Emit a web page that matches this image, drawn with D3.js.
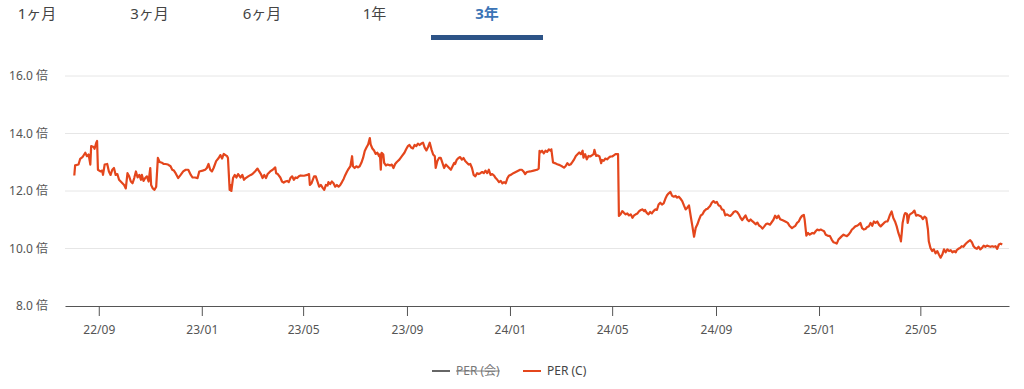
<!DOCTYPE html>
<html>
<head>
<meta charset="utf-8">
<script src="https://cdn.jsdelivr.net/npm/d3@7"></script>
<style>
  body { margin: 0; background: #fff; font-family: "Noto Sans", "Noto Sans CJK JP", sans-serif; }
</style>
</head>
<body>
<svg id="chart" width="1024" height="389"></svg>
<script>
var tabs = ["1ヶ月", "3ヶ月", "6ヶ月", "1年", "3年"];
var activeTab = "3年";
var yTicks = [8, 10, 12, 14, 16];
var xDomain = ["2022-07-23", "2025-08-14"];
var legendItems = [
  {name: "PER (会)", color: "#666", hidden: true},
  {name: "PER (C)", color: "#e4461c", hidden: false}
];

// PER (C)
var perC = [
  ["2022-08-03",12.54],["2022-08-04",12.89],["2022-08-08",12.92],["2022-08-10",13.12],["2022-08-13",13.19],
  ["2022-08-16",13.33],["2022-08-18",13.21],["2022-08-20",13.27],["2022-08-22",12.92],["2022-08-23",13.56],
  ["2022-08-26",13.53],["2022-08-27",13.47],["2022-08-29",13.68],["2022-08-30",13.74],["2022-08-31",12.74],
  ["2022-09-03",12.68],["2022-09-05",12.71],["2022-09-06",12.56],["2022-09-08",12.92],["2022-09-11",12.94],
  ["2022-09-13",12.68],["2022-09-15",12.56],["2022-09-17",12.74],["2022-09-19",12.80],["2022-09-21",12.56],
  ["2022-09-23",12.59],["2022-09-25",12.39],["2022-09-27",12.33],["2022-09-29",12.27],["2022-10-01",12.21],
  ["2022-10-03",12.09],["2022-10-05",12.62],["2022-10-07",12.51],["2022-10-09",12.33],["2022-10-11",12.27],
  ["2022-10-13",12.45],["2022-10-15",12.68],["2022-10-17",12.47],["2022-10-19",12.56],["2022-10-21",12.39],
  ["2022-10-22",12.56],["2022-10-24",12.35],["2022-10-26",12.45],["2022-10-28",12.51],["2022-10-30",12.33],
  ["2022-11-01",12.80],["2022-11-02",12.21],["2022-11-04",12.09],["2022-11-06",12.04],["2022-11-08",12.15],
  ["2022-11-10",13.15],["2022-11-12",13.01],["2022-11-15",12.98],["2022-11-17",12.94],["2022-11-19",12.94],
  ["2022-11-22",12.92],["2022-11-25",12.86],["2022-11-27",12.74],["2022-11-29",12.71],["2022-12-01",12.62],
  ["2022-12-04",12.45],["2022-12-07",12.56],["2022-12-10",12.68],["2022-12-13",12.74],["2022-12-16",12.74],
  ["2022-12-19",12.56],["2022-12-21",12.47],["2022-12-24",12.47],["2022-12-27",12.45],["2022-12-29",12.68],
  ["2023-01-02",12.71],["2023-01-05",12.74],["2023-01-07",12.80],["2023-01-09",12.94],["2023-01-11",12.74],
  ["2023-01-13",12.68],["2023-01-15",12.80],["2023-01-18",13.04],["2023-01-21",13.15],["2023-01-23",13.25],
  ["2023-01-25",13.13],["2023-01-27",13.29],["2023-01-29",13.25],["2023-01-31",13.21],["2023-02-01",13.15],
  ["2023-02-03",12.04],["2023-02-04",12.21],["2023-02-05",12.00],["2023-02-07",12.45],["2023-02-09",12.56],
  ["2023-02-11",12.47],["2023-02-13",12.59],["2023-02-16",12.47],["2023-02-18",12.56],["2023-02-20",12.39],
  ["2023-02-22",12.45],["2023-02-25",12.51],["2023-02-28",12.56],["2023-03-02",12.59],["2023-03-05",12.68],
  ["2023-03-08",12.78],["2023-03-10",12.68],["2023-03-12",12.59],["2023-03-14",12.45],["2023-03-16",12.56],
  ["2023-03-18",12.45],["2023-03-20",12.59],["2023-03-21",12.62],["2023-03-23",12.68],["2023-03-26",12.74],
  ["2023-03-29",12.82],["2023-03-30",12.62],["2023-04-01",12.59],["2023-04-04",12.47],["2023-04-06",12.33],
  ["2023-04-08",12.29],["2023-04-10",12.33],["2023-04-12",12.35],["2023-04-14",12.31],["2023-04-16",12.45],
  ["2023-04-18",12.51],["2023-04-20",12.39],["2023-04-22",12.47],["2023-04-24",12.45],["2023-04-26",12.51],
  ["2023-04-28",12.54],["2023-05-02",12.53],["2023-05-06",12.56],["2023-05-08",12.59],["2023-05-09",12.21],
  ["2023-05-11",12.27],["2023-05-14",12.51],["2023-05-16",12.51],["2023-05-18",12.33],["2023-05-20",12.15],
  ["2023-05-22",12.21],["2023-05-24",12.12],["2023-05-26",12.04],["2023-05-28",12.21],["2023-05-30",12.19],
  ["2023-05-31",12.31],["2023-06-02",12.24],["2023-06-04",12.33],["2023-06-06",12.27],["2023-06-08",12.15],
  ["2023-06-10",12.21],["2023-06-12",12.15],["2023-06-14",12.21],["2023-06-16",12.31],["2023-06-18",12.42],
  ["2023-06-20",12.56],["2023-06-22",12.68],["2023-06-24",12.78],["2023-06-26",12.86],["2023-06-28",13.21],
  ["2023-06-29",12.86],["2023-07-01",12.80],["2023-07-03",12.86],["2023-07-05",12.82],["2023-07-07",12.86],
  ["2023-07-09",12.98],["2023-07-11",13.15],["2023-07-13",13.39],["2023-07-15",13.51],["2023-07-17",13.62],
  ["2023-07-19",13.84],["2023-07-20",13.62],["2023-07-22",13.48],["2023-07-24",13.41],["2023-07-26",13.29],
  ["2023-07-28",13.33],["2023-07-30",13.21],["2023-07-31",13.27],["2023-08-01",12.74],["2023-08-02",13.33],
  ["2023-08-04",13.27],["2023-08-05",12.98],["2023-08-07",12.89],["2023-08-09",12.92],["2023-08-12",12.89],
  ["2023-08-14",12.92],["2023-08-16",12.80],["2023-08-18",12.94],["2023-08-20",13.01],["2023-08-23",13.09],
  ["2023-08-26",13.21],["2023-08-29",13.33],["2023-08-31",13.45],["2023-09-02",13.56],["2023-09-04",13.60],
  ["2023-09-06",13.51],["2023-09-08",13.48],["2023-09-10",13.60],["2023-09-12",13.56],["2023-09-14",13.65],
  ["2023-09-16",13.60],["2023-09-18",13.65],["2023-09-20",13.68],["2023-09-22",13.51],["2023-09-24",13.41],
  ["2023-09-26",13.53],["2023-09-28",13.68],["2023-09-30",13.45],["2023-10-02",13.27],["2023-10-04",13.21],
  ["2023-10-05",12.80],["2023-10-07",13.04],["2023-10-09",13.15],["2023-10-11",13.15],["2023-10-13",12.98],
  ["2023-10-15",12.80],["2023-10-17",12.92],["2023-10-19",12.86],["2023-10-21",12.80],["2023-10-23",12.74],
  ["2023-10-25",12.86],["2023-10-27",12.98],["2023-10-28",12.94],["2023-10-30",13.09],["2023-11-01",13.15],
  ["2023-11-03",13.18],["2023-11-05",13.09],["2023-11-07",13.15],["2023-11-09",13.04],["2023-11-11",12.98],
  ["2023-11-13",12.92],["2023-11-15",12.94],["2023-11-17",12.80],["2023-11-19",12.56],["2023-11-21",12.51],
  ["2023-11-23",12.62],["2023-11-25",12.59],["2023-11-27",12.62],["2023-11-29",12.66],["2023-12-01",12.62],
  ["2023-12-03",12.71],["2023-12-05",12.62],["2023-12-07",12.74],["2023-12-09",12.56],["2023-12-11",12.59],
  ["2023-12-13",12.54],["2023-12-15",12.45],["2023-12-17",12.39],["2023-12-19",12.31],["2023-12-21",12.35],
  ["2023-12-23",12.27],["2023-12-25",12.31],["2023-12-27",12.27],["2023-12-29",12.45],["2023-12-31",12.54],
  ["2024-01-02",12.56],["2024-01-05",12.62],["2024-01-09",12.68],["2024-01-13",12.74],["2024-01-15",12.74],
  ["2024-01-17",12.68],["2024-01-19",12.59],["2024-01-21",12.66],["2024-01-25",12.68],["2024-01-29",12.71],
  ["2024-02-02",12.74],["2024-02-04",12.78],["2024-02-05",13.40],["2024-02-06",13.34],["2024-02-08",13.40],
  ["2024-02-10",13.31],["2024-02-12",13.40],["2024-02-14",13.36],["2024-02-16",13.45],["2024-02-18",13.40],
  ["2024-02-19",13.45],["2024-02-21",12.99],["2024-02-23",12.97],["2024-02-26",12.93],["2024-02-29",12.90],
  ["2024-03-03",12.85],["2024-03-05",12.81],["2024-03-07",12.87],["2024-03-09",12.97],["2024-03-11",12.90],
  ["2024-03-13",12.93],["2024-03-15",13.01],["2024-03-17",13.10],["2024-03-19",13.22],["2024-03-21",13.28],
  ["2024-03-23",13.34],["2024-03-25",13.28],["2024-03-27",13.40],["2024-03-28",13.16],["2024-03-30",13.28],
  ["2024-04-01",13.10],["2024-04-03",13.22],["2024-04-05",13.20],["2024-04-07",13.24],["2024-04-09",13.28],
  ["2024-04-10",13.43],["2024-04-12",13.22],["2024-04-14",13.24],["2024-04-16",13.20],["2024-04-18",12.97],
  ["2024-04-19",13.08],["2024-04-21",13.05],["2024-04-23",13.13],["2024-04-25",13.10],["2024-04-27",13.16],
  ["2024-04-29",13.20],["2024-05-01",13.20],["2024-05-03",13.24],["2024-05-05",13.28],["2024-05-08",13.28],
  ["2024-05-09",11.13],["2024-05-11",11.19],["2024-05-13",11.30],["2024-05-15",11.24],["2024-05-17",11.19],
  ["2024-05-19",11.22],["2024-05-21",11.15],["2024-05-23",11.19],["2024-05-25",11.07],["2024-05-27",11.15],
  ["2024-05-29",11.19],["2024-05-31",11.22],["2024-06-02",11.30],["2024-06-04",11.34],["2024-06-06",11.36],
  ["2024-06-08",11.30],["2024-06-09",11.34],["2024-06-11",11.24],["2024-06-13",11.19],["2024-06-15",11.27],
  ["2024-06-17",11.22],["2024-06-19",11.30],["2024-06-21",11.36],["2024-06-23",11.34],["2024-06-25",11.53],
  ["2024-06-27",11.59],["2024-06-29",11.53],["2024-07-01",11.57],["2024-07-03",11.73],["2024-07-05",11.85],
  ["2024-07-07",11.92],["2024-07-09",11.97],["2024-07-11",11.83],["2024-07-13",11.80],["2024-07-15",11.83],
  ["2024-07-17",11.77],["2024-07-19",11.80],["2024-07-21",11.73],["2024-07-23",11.65],["2024-07-25",11.50],
  ["2024-07-27",11.36],["2024-07-29",11.42],["2024-07-31",11.50],["2024-08-02",11.13],["2024-08-04",10.78],
  ["2024-08-06",10.41],["2024-08-08",10.72],["2024-08-10",10.84],["2024-08-12",11.01],["2024-08-14",11.15],
  ["2024-08-16",11.19],["2024-08-18",11.30],["2024-08-20",11.36],["2024-08-22",11.38],["2024-08-23",11.42],
  ["2024-08-25",11.48],["2024-08-27",11.59],["2024-08-29",11.65],["2024-08-31",11.59],["2024-09-02",11.62],
  ["2024-09-04",11.50],["2024-09-06",11.48],["2024-09-08",11.36],["2024-09-10",11.34],["2024-09-12",11.15],
  ["2024-09-14",11.19],["2024-09-16",11.15],["2024-09-18",11.13],["2024-09-20",11.19],["2024-09-22",11.27],
  ["2024-09-24",11.30],["2024-09-26",11.27],["2024-09-28",11.19],["2024-09-30",11.07],["2024-10-02",10.99],
  ["2024-10-04",11.07],["2024-10-06",11.15],["2024-10-08",11.01],["2024-10-10",10.95],["2024-10-12",11.01],
  ["2024-10-14",10.95],["2024-10-16",10.90],["2024-10-18",10.84],["2024-10-20",10.90],["2024-10-22",10.80],
  ["2024-10-24",10.76],["2024-10-26",10.69],["2024-10-28",10.76],["2024-10-30",10.84],["2024-11-01",10.87],
  ["2024-11-04",10.83],["2024-11-08",11.00],["2024-11-10",11.14],["2024-11-12",11.06],["2024-11-14",11.14],
  ["2024-11-16",11.02],["2024-11-19",10.98],["2024-11-22",10.94],["2024-11-25",10.89],["2024-11-27",10.79],
  ["2024-11-30",10.71],["2024-12-02",10.75],["2024-12-04",10.79],["2024-12-06",10.89],["2024-12-08",10.94],
  ["2024-12-10",11.06],["2024-12-12",11.14],["2024-12-14",11.17],["2024-12-15",11.00],["2024-12-17",10.45],
  ["2024-12-19",10.54],["2024-12-21",10.48],["2024-12-24",10.54],["2024-12-26",10.52],["2024-12-28",10.60],
  ["2024-12-30",10.66],["2025-01-01",10.63],["2025-01-03",10.66],["2025-01-05",10.63],["2025-01-07",10.60],
  ["2025-01-09",10.48],["2025-01-11",10.45],["2025-01-14",10.43],["2025-01-16",10.31],["2025-01-18",10.22],
  ["2025-01-20",10.20],["2025-01-22",10.17],["2025-01-24",10.31],["2025-01-26",10.37],["2025-01-28",10.43],
  ["2025-01-30",10.48],["2025-02-01",10.45],["2025-02-03",10.43],["2025-02-05",10.48],["2025-02-07",10.56],
  ["2025-02-09",10.66],["2025-02-11",10.71],["2025-02-13",10.77],["2025-02-15",10.79],["2025-02-17",10.83],
  ["2025-02-19",10.89],["2025-02-21",10.71],["2025-02-23",10.66],["2025-02-25",10.68],["2025-02-27",10.75],
  ["2025-03-01",10.77],["2025-03-03",10.89],["2025-03-05",10.79],["2025-03-07",10.94],["2025-03-09",10.89],
  ["2025-03-11",10.94],["2025-03-13",10.83],["2025-03-15",10.77],["2025-03-17",10.83],["2025-03-19",10.89],
  ["2025-03-21",10.94],["2025-03-23",10.94],["2025-03-24",11.00],["2025-03-26",11.17],["2025-03-28",11.29],
  ["2025-03-30",11.06],["2025-04-01",10.94],["2025-04-03",10.77],["2025-04-05",10.54],["2025-04-07",10.37],
  ["2025-04-08",10.25],["2025-04-09",10.54],["2025-04-10",10.89],["2025-04-12",11.17],["2025-04-13",11.23],
  ["2025-04-15",11.21],["2025-04-16",10.89],["2025-04-18",11.17],["2025-04-20",11.21],["2025-04-22",11.25],
  ["2025-04-24",11.32],["2025-04-26",11.14],["2025-04-28",11.17],["2025-04-30",11.14],["2025-05-02",11.11],
  ["2025-05-04",11.02],["2025-05-06",11.11],["2025-05-08",11.06],["2025-05-10",10.66],["2025-05-11",10.25],
  ["2025-05-13",10.02],["2025-05-15",9.91],["2025-05-17",9.97],["2025-05-19",9.83],["2025-05-21",9.91],
  ["2025-05-23",9.79],["2025-05-25",9.68],["2025-05-27",9.79],["2025-05-29",9.97],["2025-05-31",9.87],
  ["2025-06-02",9.97],["2025-06-04",9.91],["2025-06-06",9.94],["2025-06-08",9.87],["2025-06-10",9.91],
  ["2025-06-12",9.87],["2025-06-13",9.94],["2025-06-15",9.99],["2025-06-17",10.02],["2025-06-19",10.08],
  ["2025-06-21",10.06],["2025-06-23",10.14],["2025-06-25",10.20],["2025-06-27",10.25],["2025-06-29",10.29],
  ["2025-07-01",10.22],["2025-07-03",10.08],["2025-07-05",10.02],["2025-07-07",9.99],["2025-07-09",10.06],
  ["2025-07-11",9.97],["2025-07-13",10.02],["2025-07-15",10.10],["2025-07-17",10.06],["2025-07-19",10.10],
  ["2025-07-21",10.08],["2025-07-23",10.06],["2025-07-25",10.08],["2025-07-27",10.06],["2025-07-29",10.08],
  ["2025-07-31",9.99],["2025-08-02",10.14],["2025-08-04",10.17],["2025-08-06",10.14]
];

var parseDate = d3.timeParse("%Y-%m-%d");
var plot = {left: 65, right: 1009, top: 76, bottom: 306};

var svg = d3.select("#chart");

var x = d3.scaleTime()
  .domain(xDomain.map(parseDate))
  .range([plot.left, plot.right]);
var y = d3.scaleLinear()
  .domain([8, 16])
  .range([plot.bottom, plot.top]);

// tabs across the top
var tabX = d3.scalePoint().domain(tabs).range([37, 487]);
svg.append("g").selectAll("text")
  .data(tabs)
  .enter().append("text")
  .attr("x", function(d){ return tabX(d); })
  .attr("y", 19)
  .attr("text-anchor", "middle")
  .attr("font-size", 15)
  .attr("font-weight", function(d){ return d === activeTab ? "bold" : "normal"; })
  .attr("fill", function(d){ return d === activeTab ? "#3b74b6" : "#444"; })
  .text(function(d){ return d; });
svg.append("rect")
  .attr("x", tabX(activeTab) - 56)
  .attr("y", 35)
  .attr("width", 112)
  .attr("height", 5)
  .attr("fill", "#2d5487");

// grid + y labels
svg.append("g").selectAll("line")
  .data(yTicks.filter(function(d){ return d > 8; }))
  .enter().append("line")
  .attr("x1", plot.left).attr("x2", plot.right)
  .attr("y1", function(d){ return y(d); }).attr("y2", function(d){ return y(d); })
  .attr("stroke", "#e6e6e6");

svg.append("g").selectAll("text")
  .data(yTicks)
  .enter().append("text")
  .attr("x", 48)
  .attr("y", function(d){ return y(d); })
  .attr("dy", "0.35em")
  .attr("text-anchor", "end")
  .attr("font-size", 12)
  .attr("fill", "#555")
  .text(function(d){ return d3.format(".1f")(d) + " 倍"; });

// x axis
var xAxis = svg.append("g")
  .attr("transform", "translate(0," + plot.bottom + ")")
  .call(d3.axisBottom(x)
    .ticks(d3.timeMonth.every(4))
    .tickFormat(d3.timeFormat("%y/%m"))
    .tickSize(10)
    .tickSizeOuter(0)
    .tickPadding(9));
xAxis.select(".domain").attr("stroke", "#555");
xAxis.selectAll(".tick line").attr("stroke", "#555");
xAxis.selectAll("text")
  .attr("font-size", 12)
  .attr("fill", "#555")
  .attr("font-family", "Noto Sans, sans-serif");

// the series
var line = d3.line()
  .x(function(d){ return x(parseDate(d[0])); })
  .y(function(d){ return y(d[1]); });

svg.append("path")
  .datum(perC)
  .attr("d", line)
  .attr("fill", "none")
  .attr("stroke", "#e4461c")
  .attr("stroke-width", 2.2)
  .attr("stroke-linejoin", "round");

// legend
var legendX = [432, 523];
var legend = svg.append("g").selectAll("g")
  .data(legendItems)
  .enter().append("g")
  .attr("transform", function(d, i){ return "translate(" + legendX[i] + ",371)"; });
legend.append("line")
  .attr("x1", 0).attr("x2", 18)
  .attr("stroke", function(d){ return d.color; })
  .attr("stroke-width", 2);
legend.append("text")
  .attr("x", 24)
  .attr("dy", "0.35em")
  .attr("font-size", 12)
  .attr("fill", function(d){ return d.hidden ? "#777" : "#444"; })
  .text(function(d){ return d.name; });
legend.filter(function(d){ return d.hidden; })
  .append("line")
  .attr("x1", 24)
  .attr("x2", function(){ return 24 + this.parentNode.querySelector("text").getComputedTextLength(); })
  .attr("stroke", "#777")
  .attr("stroke-width", 1);
</script>
</body>
</html>
